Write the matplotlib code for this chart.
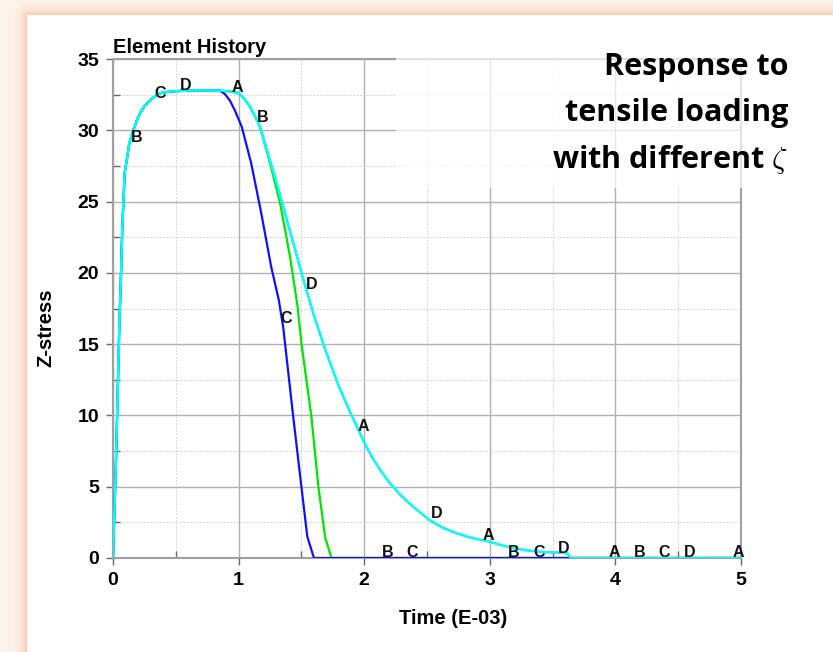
import numpy as np
import matplotlib
matplotlib.use("Agg")
import matplotlib.pyplot as plt
from matplotlib.ticker import MultipleLocator
from matplotlib.patches import Rectangle

plt.rcParams['font.family'] = ['Liberation Sans', 'DejaVu Sans']
plt.rcParams['mathtext.fontset'] = 'cm'

# --- element history data (time in E-03, z-stress) ---
# elastic rise + plateau shared by every run
rise_t = [0.0, 0.024, 0.037, 0.05, 0.064, 0.074, 0.093, 0.109, 0.13, 0.162,
          0.19, 0.215, 0.25, 0.295, 0.335, 0.374, 0.44, 0.51, 0.65, 0.85]
rise_z = [0.0, 6.9, 11.5, 16.2, 20.0, 23.2, 27.0, 27.9, 29.1, 30.0,
          30.7, 31.2, 31.7, 32.1, 32.4, 32.6, 32.7, 32.75, 32.8, 32.78]

# softening branch shared by A, B and D before B splits off
shared_t = [0.95, 1.0, 1.02, 1.05, 1.09, 1.13, 1.17]
shared_z = [32.72, 32.6, 32.45, 32.15, 31.66, 31.0, 30.25]

# curve C (blue) leaves the plateau first
c_t = [0.89, 0.93, 0.97, 1.025, 1.10, 1.18, 1.26, 1.32, 1.355, 1.435, 1.50,
       1.547, 1.60, 5.0]
c_z = [32.55, 32.1, 31.4, 30.25, 27.7, 24.2, 20.4, 18.1, 16.2, 9.9, 5.0,
       1.5, 0.0, 0.0]

# curve B (green)
b_t = [1.25, 1.33, 1.41, 1.47, 1.50, 1.58, 1.635, 1.69, 1.74, 5.0]
b_z = [27.7, 24.9, 21.1, 17.6, 15.06, 9.9, 5.0, 1.4, 0.0, 0.0]

# curves A and D (identical, D drawn on top)
d_t = [1.30, 1.41, 1.51, 1.60, 1.69, 1.80, 1.90, 1.95, 2.0, 2.06, 2.125,
       2.205, 2.28, 2.35, 2.43, 2.52, 2.62, 2.735, 2.86, 3.0, 3.1, 3.19,
       3.3, 3.40, 3.5, 3.585, 3.62, 3.645, 5.0]
d_z = [26.4, 22.9, 19.7, 17.0, 14.6, 12.0, 10.0, 9.05, 8.1, 7.1, 6.2,
       5.24, 4.5, 3.9, 3.3, 2.66, 2.15, 1.73, 1.4, 1.14, 0.88, 0.68,
       0.53, 0.44, 0.39, 0.37, 0.3, 0.0, 0.0]

curve_t = {
    'A': rise_t + shared_t + d_t,
    'B': rise_t + shared_t + b_t,
    'C': rise_t + c_t,
    'D': rise_t + shared_t + d_t,
}
curve_z = {
    'A': rise_z + shared_z + d_z,
    'B': rise_z + shared_z + b_z,
    'C': rise_z + c_z,
    'D': rise_z + shared_z + d_z,
}
curve_color = {'A': '#ff0000', 'B': '#00e600', 'C': '#1010ff', 'D': '#00ffff'}
curve_lw = {'A': 1.2, 'B': 1.6, 'C': 1.6, 'D': 1.8}

# curve identification letters placed along the traces
label_chars = ['B', 'C', 'D', 'A', 'B', 'C', 'D', 'A', 'B', 'C',
               'D', 'A', 'B', 'C', 'D', 'A', 'B', 'C', 'D', 'A']
label_t = [0.19, 0.375, 0.58, 0.99, 1.19, 1.38, 1.58, 1.99, 2.19, 2.38,
           2.58, 2.99, 3.19, 3.39, 3.59, 3.99, 4.19, 4.39, 4.59, 4.98]
label_z = [29.5, 32.6, 33.15, 33.0, 30.9, 16.8, 19.15, 9.25, 0.42, 0.42,
           3.1, 1.55, 0.42, 0.42, 0.7, 0.42, 0.42, 0.42, 0.42, 0.42]

W, H = 833, 652
fig = plt.figure(figsize=(W / 100, H / 100), dpi=100)

# soft orange glow around the white panel
yy, xx = np.mgrid[0:H, 0:W]
dx = np.clip(27 - xx, 0, None)
dy = np.clip(15 - yy, 0, None)
dist = np.hypot(dx, dy)
inside = (xx >= 27) & (yy >= 15)
glow = 0.18 + 0.82 * np.exp(-dist / 6.0)
glow[inside] = 0.0
peach = np.array([248, 200, 165]) / 255.0
bg = 1.0 - glow[..., None] * (1.0 - peach)
bg_ax = fig.add_axes([0, 0, 1, 1], zorder=-10)
bg_ax.imshow(bg, extent=[0, W, H, 0], aspect='auto')
bg_ax.set_xlim(0, W)
bg_ax.set_ylim(H, 0)
bg_ax.axis('off')

ax = fig.add_axes([113 / W, (H - 558) / H, 628 / W, 499 / H])
ax.set_facecolor('white')

for key in ['A', 'B', 'C', 'D']:
    ax.plot(curve_t[key], curve_z[key], color=curve_color[key],
            lw=curve_lw[key], solid_joinstyle='round', zorder=3)

for ch, t, z in zip(label_chars, label_t, label_z):
    ax.text(t, z, ch, ha='center', va='center', fontsize=11.5,
            fontweight='bold', color='#111111', zorder=4)

ax.set_xlim(0, 5)
ax.set_ylim(0, 35)
ax.xaxis.set_major_locator(MultipleLocator(1))
ax.xaxis.set_minor_locator(MultipleLocator(0.5))
ax.yaxis.set_major_locator(MultipleLocator(5))
ax.yaxis.set_minor_locator(MultipleLocator(2.5))
ax.set_axisbelow(True)
ax.grid(which='major', color='#b0b0b0', lw=1.0, ls='-')
ax.grid(which='minor', color='#c8c8c8', lw=0.6, ls=(0, (2, 2)))
ax.tick_params(which='major', direction='out', length=5, width=1,
               color='#666666', labelsize=14, pad=5)
ax.tick_params(which='minor', direction='in', length=5, width=1,
               color='#666666')
for lbl in ax.get_xticklabels() + ax.get_yticklabels():
    lbl.set_fontweight('bold')
for sp in ax.spines.values():
    sp.set_color('#a0a0a0')
    sp.set_linewidth(1.5)

ax.set_title('Element History', loc='left', fontsize=14.5,
             fontweight='bold', pad=4)
ax.set_xlabel('Time (E-03)', fontsize=14.5, fontweight='bold')
ax.xaxis.set_label_coords(0.541, -0.102)
ax.set_ylabel('Z-stress', fontsize=14.5, fontweight='bold')
ax.yaxis.set_label_coords(-0.091, 0.461)

# translucent box behind the caption
fig.patches.append(Rectangle((396 / W, (H - 188) / H), (W - 396) / W,
                             (188 - 50) / H, transform=fig.transFigure,
                             facecolor='white', edgecolor='none', alpha=0.7,
                             zorder=5))
caption = ['Response to', 'tensile loading', r'with different $\zeta$']
for i, line in enumerate(caption):
    fig.text(788 / W, 1 - (75 + 46.5 * i) / H, line, ha='right',
             va='baseline', fontsize=22, fontweight='bold',
             family=['Open Sans', 'DejaVu Sans'], color='black', zorder=6)

fig.savefig('out.png', dpi=100)
